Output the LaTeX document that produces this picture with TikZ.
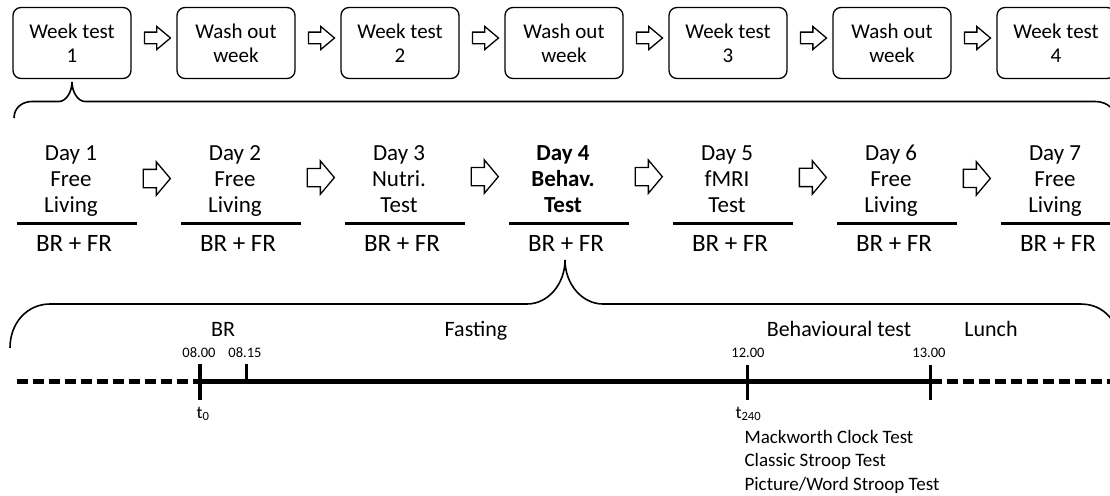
\documentclass[tikz,border=0pt]{standalone}
\usepackage{fontspec}
\setmainfont{Carlito}
\usetikzlibrary{shapes.arrows,calc}

\tikzset{
	weekbox/.style = {draw, line width=1.3pt, rounded corners=8pt, minimum width=118pt, minimum height=71pt, align=center, font=\fontsize{21}{24}\selectfont},
	fatarrow/.style = {draw, line width=1.3pt, single arrow, inner ysep=5.2pt, inner xsep=0pt, minimum height=26pt, single arrow head extend=5.6pt, single arrow tip angle=80},
	bigarrow/.style = {fatarrow, inner ysep=8.5pt, minimum height=27pt, single arrow head extend=7.5pt, single arrow tip angle=100},
	daytext/.style = {align=center, anchor=base, font=\fontsize{23}{26}\selectfont},
	mealtext/.style = {anchor=base, font=\fontsize{25}{30}\selectfont},
	phase/.style = {anchor=base, font=\fontsize{22}{26}\selectfont},
	clock/.style = {anchor=base, font=\fontsize{14.5}{17}\selectfont},
	bracket/.style = {line width=1.6pt},
	timeline/.style = {line width=4.5pt},
	dashline/.style = {line width=4.5pt, dash pattern=on 11pt off 5pt},
	tick/.style = {line width=3.5pt}
}

\begin{document}
\begin{tikzpicture}[x=1pt, y=-1pt]
	\useasboundingbox (0, 0) rectangle (1110, 495) ;
	\clip (0, 0) rectangle (1110, 495) ;

	% weeks
	\foreach \txt [count=\i] in {{Week test\\1}, {Wash out\\week}, {Week test\\2}, {Wash out\\week}, {Week test\\3}, {Wash out\\week}, {Week test\\4}}
		\node [weekbox] (wk\i) at ({72 + 164*(\i - 1)}, 43) {\txt} ;
	\foreach \i [evaluate = \i as \j using int(\i + 1)] in {1, ..., 6}
		\node [fatarrow] (wa\i) at ($(wk\i)!0.5!(wk\j) + (0, -5)$) {} ;

	\draw [bracket] (14, 118) .. controls (14, 108) and (22, 101.5) .. (32, 101.5) -- (59, 101.5)
		.. controls (66, 101.5) and (72, 92) .. (72, 82)
		.. controls (72, 92) and (78, 101.5) .. (85, 101.5) -- (1095, 101.5)
		.. controls (1108, 101.5) and (1116, 110) .. (1118, 122) ;

	% days (base = last line)
	\foreach \txt [count=\i] in {{Day 1\\Free\\Living}, {Day 2\\Free\\Living}, {Day 3\\Nutri.\\Test}, {\textbf{Day 4}\\\textbf{Behav.}\\\textbf{Test}}, {Day 5\\fMRI\\Test}, {Day 6\\Free\\Living}, {Day 7\\Free\\Living}}
	{
		\node [daytext] (day\i) at ({71 + 164*(\i - 1)}, 212) {\txt} ;
		\draw [line width=3pt] ({17 + 164*(\i - 1)}, 223) -- ({137 + 164*(\i - 1)}, 223) ;
		\node [mealtext] (meal\i) at ({74 + 164*(\i - 1)}, 251) {BR + FR} ;
	}
	\foreach \i [evaluate = \i as \j using int(\i + 1)] in {1, ..., 6}
		\node [bigarrow] (da\i) at ($(day\i)!0.5!(day\j) + (0, -2)$) {} ;

	\draw [bracket] (10, 348) .. controls (10, 322) and (28, 304) .. (50, 304) -- (527, 304)
		.. controls (548, 304) and (565, 284) .. (565, 260)
		.. controls (565, 284) and (582, 304) .. (603, 304) -- (1080, 304)
		.. controls (1100, 304) and (1112, 315) .. (1120, 335) ;

	% day 4 timeline
	\coordinate (left) at (17, 381.5) ;
	\coordinate (t0) at (200, 381.5) ;
	\coordinate (t15) at (246.7, 381.5) ;
	\coordinate (t240) at (747.3, 381.5) ;
	\coordinate (t300) at (930.7, 381.5) ;
	\coordinate (right) at (1115, 381.5) ;
	\draw [dashline] (left) -- (t0) ;
	\draw [timeline] (t0) -- (t300) ;
	\draw [dashline] (t300) -- (right) ;
	\draw [tick] ($(t0) + (0, -18)$) -- ($(t0) + (0, 18)$) ;
	\draw [tick] ($(t15) + (0, -18)$) -- (t15) ;
	\draw [tick] ($(t240) + (0, -17)$) -- ($(t240) + (0, 18)$) ;
	\draw [tick] ($(t300) + (0, -17)$) -- ($(t300) + (0, 18)$) ;

	\node [clock] (h0800) at (199, 357.3) {08.00} ;
	\node [clock] (h0815) at (245, 357.3) {08.15} ;
	\node [clock] (h1200) at (748, 357.3) {12.00} ;
	\node [clock] (h1300) at (929, 357.3) {13.00} ;

	\node [phase] (br) at (223, 336.5) {BR} ;
	\node [phase] (fast) at (476, 336) {Fasting} ;
	\node [phase] (behav) at (839, 336) {Behavioural test} ;
	\node [phase] (lunch) at (991, 336) {Lunch} ;

	\node [anchor=base west, font=\fontsize{18}{20}\selectfont] (lbl0) at (193, 418) {t\textsubscript{0}} ;
	\node [anchor=base west, font=\fontsize{18}{20}\selectfont] (lbl240) at (732, 418) {t\textsubscript{240}} ;
	\node [anchor=base west, align=left, font=\fontsize{19}{23.3}\selectfont] (tests) at (741, 490) {Mackworth Clock Test\\Classic Stroop Test\\Picture/Word Stroop Test} ;
\end{tikzpicture}
\end{document}
